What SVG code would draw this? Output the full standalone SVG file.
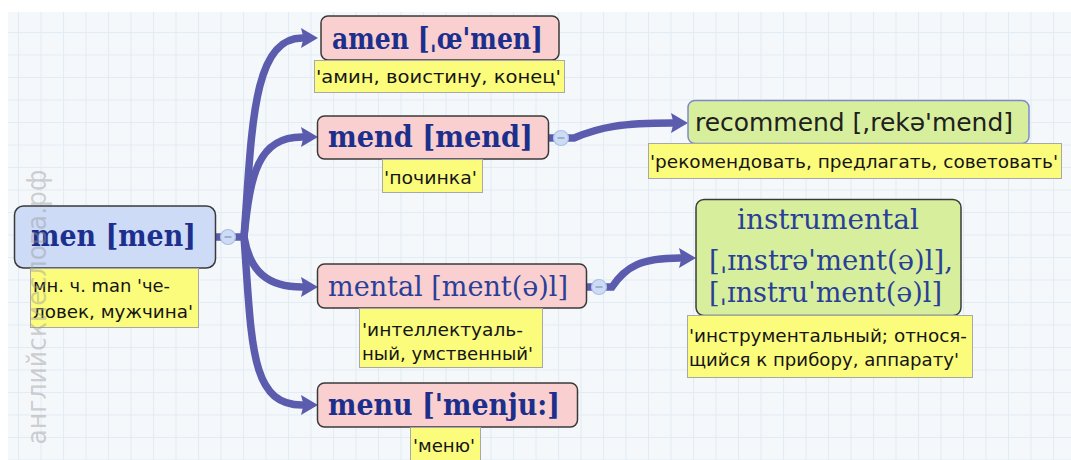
<svg xmlns="http://www.w3.org/2000/svg" width="1071" height="460" viewBox="0 0 1071 460">
<defs>
<pattern id="grid" x="18" y="9.5" width="22.5" height="22.5" patternUnits="userSpaceOnUse">
<rect width="22.5" height="22.5" fill="#f5f8fb"/>
<path d="M0,0.5 H22.5 M0.5,0 V22.5" stroke="#e2ecf4" stroke-width="1" fill="none"/>
</pattern>
<marker id="arr" markerUnits="userSpaceOnUse" markerWidth="18" markerHeight="22" refX="1" refY="11" orient="auto" viewBox="0 0 18 22">
<path d="M0,1 L17,11 L0,21 L2.5,11 z" fill="#5c5cae"/>
</marker>
<style>
.con{fill:none;stroke:#5c5cae;stroke-width:7.5;stroke-linecap:round}
.pink{fill:#f9cfcf;stroke:#3a3a3a;stroke-width:1.5}
.blue{fill:#cddbf7;stroke:#3a3a3a;stroke-width:1.5}
.green{fill:#d7ef9c;stroke:#3a3a3a;stroke-width:1.5}
.greenb{fill:#d7ef9c;stroke:#8088cc;stroke-width:1.5}
.note{fill:#fbfb7c;stroke:#a8a8a8;stroke-width:1}
.nt{font-family:"DejaVu Sans",Verdana,sans-serif;font-size:18px;fill:#151515}
.bt{font-family:"DejaVu Serif",serif;font-weight:bold;font-size:29px;fill:#1d2f8c}
.rt{font-family:"DejaVu Serif",serif;font-size:28px;fill:#2a3f98}
.st{font-family:"DejaVu Sans",Verdana,sans-serif;font-size:25px;fill:#202020}
.ci{fill:#cddcf4;stroke:#a9bfe4;stroke-width:1.2}
.cd{stroke:#7f93ba;stroke-width:1.2}
</style>
</defs>
<rect x="0" y="0" width="1071" height="460" fill="#ffffff"/>
<rect x="8" y="12" width="1063" height="448" fill="url(#grid)"/>

<g id="connectors">
<path class="con" d="M214,237 L244,237"/>
<path class="con" d="M244,237 C252,130 252,38 302,38" marker-end="url(#arr)"/>
<path class="con" d="M244,237 C250,175 258,137 302,137" marker-end="url(#arr)"/>
<path class="con" d="M244,237 C250,272 268,287 302,287" marker-end="url(#arr)"/>
<path class="con" d="M244,237 C252,345 250,405 302,405" marker-end="url(#arr)"/>
<path class="con" d="M548,138 L574,138 C600,127 622,123 672,123" marker-end="url(#arr)"/>
<path class="con" d="M586,287 L612,287 C626,266 642,258 680,258" marker-end="url(#arr)"/>
</g>

<g id="node-men">
<rect class="blue" x="14.5" y="206" width="201" height="62" rx="9"/>
<text class="bt" x="31" y="246" textLength="165" lengthAdjust="spacingAndGlyphs">men [men]</text>
<rect class="note" x="30.5" y="268.5" width="168" height="59"/>
<text class="nt" x="33" y="292" textLength="137" lengthAdjust="spacingAndGlyphs">мн. ч. man 'че-</text>
<text class="nt" x="33" y="318" textLength="160" lengthAdjust="spacingAndGlyphs">ловек, мужчина'</text>
</g>

<g id="node-amen">
<rect class="pink" x="321" y="16" width="238" height="44" rx="7"/>
<text class="bt" x="332" y="49" textLength="211" lengthAdjust="spacingAndGlyphs">amen [ˌœ'men]</text>
<rect class="note" x="314.5" y="60.5" width="250" height="32"/>
<text class="nt" x="316" y="83" textLength="245" lengthAdjust="spacingAndGlyphs">'амин, воистину, конец'</text>
</g>

<g id="node-mend">
<rect class="pink" x="317.5" y="116" width="231" height="43" rx="7"/>
<text class="bt" x="328" y="147" textLength="205" lengthAdjust="spacingAndGlyphs">mend [mend]</text>
<rect class="note" x="382.5" y="159.5" width="100" height="33"/>
<text class="nt" x="384" y="184" textLength="93" lengthAdjust="spacingAndGlyphs">'починка'</text>
</g>

<g id="node-recommend">
<rect class="greenb" x="688" y="100.5" width="341" height="43" rx="7"/>
<text class="st" x="695" y="131" textLength="318" lengthAdjust="spacingAndGlyphs">recommend [,rekə'mend]</text>
<rect class="note" x="648.5" y="143.5" width="413" height="35"/>
<text class="nt" x="650" y="168" textLength="408" lengthAdjust="spacingAndGlyphs">'рекомендовать, предлагать, советовать'</text>
</g>

<g id="node-mental">
<rect class="pink" x="317.5" y="264" width="269" height="44" rx="7"/>
<text class="rt" x="328" y="296" textLength="240" lengthAdjust="spacingAndGlyphs">mental [ment(ə)l]</text>
<rect class="note" x="359.5" y="308.5" width="183" height="59"/>
<text class="nt" x="362" y="336" textLength="161" lengthAdjust="spacingAndGlyphs">'интеллектуаль-</text>
<text class="nt" x="362" y="360" textLength="171" lengthAdjust="spacingAndGlyphs">ный, умственный'</text>
</g>

<g id="node-instrumental">
<rect class="green" x="696" y="199.5" width="265" height="116" rx="8"/>
<text class="rt" x="737" y="229" textLength="182" lengthAdjust="spacingAndGlyphs">instrumental</text>
<text class="rt" x="709" y="270" textLength="244" lengthAdjust="spacingAndGlyphs">[ˌɪnstrə'ment(ə)l],</text>
<text class="rt" x="709" y="302" textLength="233" lengthAdjust="spacingAndGlyphs">[ˌɪnstru'ment(ə)l]</text>
<rect class="note" x="687.5" y="315.5" width="285" height="62"/>
<text class="nt" x="689" y="342" textLength="278" lengthAdjust="spacingAndGlyphs">'инструментальный; относя-</text>
<text class="nt" x="689" y="366" textLength="270" lengthAdjust="spacingAndGlyphs">щийся к прибору, аппарату'</text>
</g>

<g id="node-menu">
<rect class="pink" x="317.5" y="383" width="260" height="44" rx="7"/>
<text class="bt" x="328" y="415" textLength="232" lengthAdjust="spacingAndGlyphs">menu ['menju:]</text>
<rect class="note" x="410.5" y="427.5" width="70" height="34"/>
<text class="nt" x="413" y="452" textLength="62" lengthAdjust="spacingAndGlyphs">'меню'</text>
</g>

<g id="toggles">
<circle class="ci" cx="228" cy="237" r="7.5"/><line class="cd" x1="224.5" y1="237" x2="231.5" y2="237"/>
<circle class="ci" cx="561" cy="138" r="7.5"/><line class="cd" x1="557.5" y1="138" x2="564.5" y2="138"/>
<circle class="ci" cx="599" cy="287" r="7.5"/><line class="cd" x1="595.5" y1="287" x2="602.5" y2="287"/>
</g>

<text transform="translate(46,307) rotate(-90)" text-anchor="middle" font-family="DejaVu Sans, sans-serif" font-size="26" fill="#9a9a9a" fill-opacity="0.45" textLength="275" lengthAdjust="spacingAndGlyphs">английскиеслова.рф</text>
</svg>
